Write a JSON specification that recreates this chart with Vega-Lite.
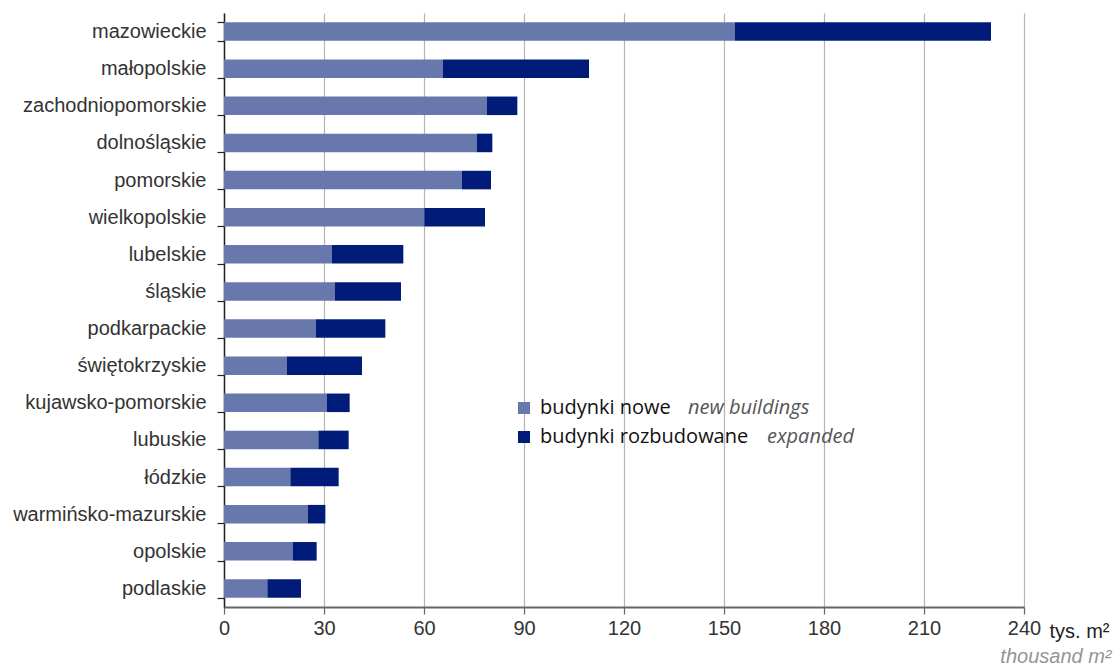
{
  "$schema": "https://vega.github.io/schema/vega-lite/v6.json",
  "width": 800,
  "height": 594,
  "autosize": {"type": "none"},
  "padding": {"left": 224, "top": 13, "right": 90, "bottom": 58},
  "background": "white",
  "config": {"view": {"stroke": null}},
  "data": {
    "values": [
      {"region": "mazowieckie", "series": "budynki nowe", "en": "new buildings", "value": 153.3},
      {"region": "mazowieckie", "series": "budynki rozbudowane", "en": "expanded", "value": 76.8},
      {"region": "małopolskie", "series": "budynki nowe", "en": "new buildings", "value": 65.7},
      {"region": "małopolskie", "series": "budynki rozbudowane", "en": "expanded", "value": 43.8},
      {"region": "zachodniopomorskie", "series": "budynki nowe", "en": "new buildings", "value": 78.9},
      {"region": "zachodniopomorskie", "series": "budynki rozbudowane", "en": "expanded", "value": 9.1},
      {"region": "dolnośląskie", "series": "budynki nowe", "en": "new buildings", "value": 75.8},
      {"region": "dolnośląskie", "series": "budynki rozbudowane", "en": "expanded", "value": 4.7},
      {"region": "pomorskie", "series": "budynki nowe", "en": "new buildings", "value": 71.4},
      {"region": "pomorskie", "series": "budynki rozbudowane", "en": "expanded", "value": 8.7},
      {"region": "wielkopolskie", "series": "budynki nowe", "en": "new buildings", "value": 60.1},
      {"region": "wielkopolskie", "series": "budynki rozbudowane", "en": "expanded", "value": 18.2},
      {"region": "lubelskie", "series": "budynki nowe", "en": "new buildings", "value": 32.3},
      {"region": "lubelskie", "series": "budynki rozbudowane", "en": "expanded", "value": 21.5},
      {"region": "śląskie", "series": "budynki nowe", "en": "new buildings", "value": 33.3},
      {"region": "śląskie", "series": "budynki rozbudowane", "en": "expanded", "value": 19.8},
      {"region": "podkarpackie", "series": "budynki nowe", "en": "new buildings", "value": 27.5},
      {"region": "podkarpackie", "series": "budynki rozbudowane", "en": "expanded", "value": 20.9},
      {"region": "świętokrzyskie", "series": "budynki nowe", "en": "new buildings", "value": 18.8},
      {"region": "świętokrzyskie", "series": "budynki rozbudowane", "en": "expanded", "value": 22.6},
      {"region": "kujawsko-pomorskie", "series": "budynki nowe", "en": "new buildings", "value": 30.8},
      {"region": "kujawsko-pomorskie", "series": "budynki rozbudowane", "en": "expanded", "value": 6.9},
      {"region": "lubuskie", "series": "budynki nowe", "en": "new buildings", "value": 28.3},
      {"region": "lubuskie", "series": "budynki rozbudowane", "en": "expanded", "value": 9.1},
      {"region": "łódzkie", "series": "budynki nowe", "en": "new buildings", "value": 19.9},
      {"region": "łódzkie", "series": "budynki rozbudowane", "en": "expanded", "value": 14.5},
      {"region": "warmińsko-mazurskie", "series": "budynki nowe", "en": "new buildings", "value": 25.2},
      {"region": "warmińsko-mazurskie", "series": "budynki rozbudowane", "en": "expanded", "value": 5.2},
      {"region": "opolskie", "series": "budynki nowe", "en": "new buildings", "value": 20.6},
      {"region": "opolskie", "series": "budynki rozbudowane", "en": "expanded", "value": 7.2},
      {"region": "podlaskie", "series": "budynki nowe", "en": "new buildings", "value": 13.0},
      {"region": "podlaskie", "series": "budynki rozbudowane", "en": "expanded", "value": 10.1}
    ]
  },
  "encoding": {
    "y": {
      "field": "region",
      "type": "nominal",
      "sort": null,
      "scale": {"paddingInner": 0.5, "paddingOuter": 0.25},
      "axis": {
        "title": "thousand m²",
        "titleAngle": 0,
        "titleX": 887,
        "titleY": 649,
        "titleAlign": "right",
        "titleBaseline": "alphabetic",
        "titleFont": "Liberation Sans",
        "titleFontSize": 20,
        "titleFontStyle": "italic",
        "titleFontWeight": "normal",
        "titleColor": "#959595",
        "labelFont": "Liberation Sans",
        "labelFontSize": 20,
        "labelColor": "#333333",
        "labelPadding": 11,
        "labelLimit": 300,
        "tickSize": 7,
        "tickColor": "#222222",
        "tickWidth": 1.2,
        "domainColor": "#222222",
        "domainWidth": 1.5,
        "tickBand": "extent",
        "grid": false
      }
    },
    "x": {
      "field": "value",
      "type": "quantitative",
      "scale": {"domain": [0, 240], "nice": false},
      "axis": {
        "values": [0, 30, 60, 90, 120, 150, 180, 210, 240],
        "title": "tys. m²",
        "titleX": 825,
        "titleY": 30,
        "titleAlign": "left",
        "titleBaseline": "alphabetic",
        "titleFont": "Liberation Sans",
        "titleFontSize": 20,
        "titleFontWeight": "normal",
        "titleColor": "#222222",
        "labelFont": "Liberation Sans",
        "labelFontSize": 20,
        "labelColor": "#333333",
        "labelPadding": 4,
        "labelFlush": false,
        "tickSize": 7,
        "tickColor": "#666666",
        "tickWidth": 1.2,
        "domainColor": "#666666",
        "domainWidth": 2,
        "grid": true,
        "gridColor": "#b4b4b4",
        "gridWidth": 1.2
      }
    }
  },
  "layer": [
    {
      "mark": {"type": "point", "opacity": 0},
      "encoding": {
        "shape": {
          "field": "en",
          "type": "nominal",
          "scale": {"domain": ["new buildings", "expanded"], "range": ["square", "square"]},
          "legend": {
            "orient": "none",
            "legendX": 444,
            "legendY": 385,
            "title": null,
            "padding": 0,
            "values": ["new buildings"],
            "symbolSize": 0,
            "symbolOpacity": 0,
            "symbolStrokeWidth": 0,
            "labelOffset": 0,
            "labelFont": "Open Sans",
            "labelFontSize": 20,
            "labelFontStyle": "italic",
            "labelColor": "#555555",
            "labelLimit": 400
          }
        },
        "strokeDash": {
          "field": "en",
          "type": "nominal",
          "scale": {"domain": ["expanded", "new buildings"]},
          "legend": {
            "orient": "none",
            "legendX": 523,
            "legendY": 414,
            "title": null,
            "padding": 0,
            "values": ["expanded"],
            "symbolSize": 0,
            "symbolOpacity": 0,
            "symbolStrokeWidth": 0,
            "labelOffset": 0,
            "labelFont": "Open Sans",
            "labelFontSize": 20,
            "labelFontStyle": "italic",
            "labelColor": "#555555",
            "labelLimit": 400
          }
        }
      }
    },
    {
      "mark": {"type": "bar"},
      "encoding": {
        "x": {"field": "value", "type": "quantitative", "stack": "zero"},
        "color": {
          "field": "series",
          "type": "nominal",
          "scale": {
            "domain": ["budynki nowe", "budynki rozbudowane"],
            "range": ["#6878AD", "#001C78"]
          },
          "legend": {
            "orient": "none",
            "legendX": 290,
            "legendY": 385,
            "title": null,
            "padding": 0,
            "symbolType": "square",
            "symbolSize": 144,
            "symbolStrokeWidth": 0,
            "labelOffset": 6,
            "labelFont": "Open Sans",
            "labelFontSize": 20,
            "labelColor": "#111111",
            "labelLimit": 400,
            "rowPadding": 9
          }
        }
      }
    }
  ]
}
